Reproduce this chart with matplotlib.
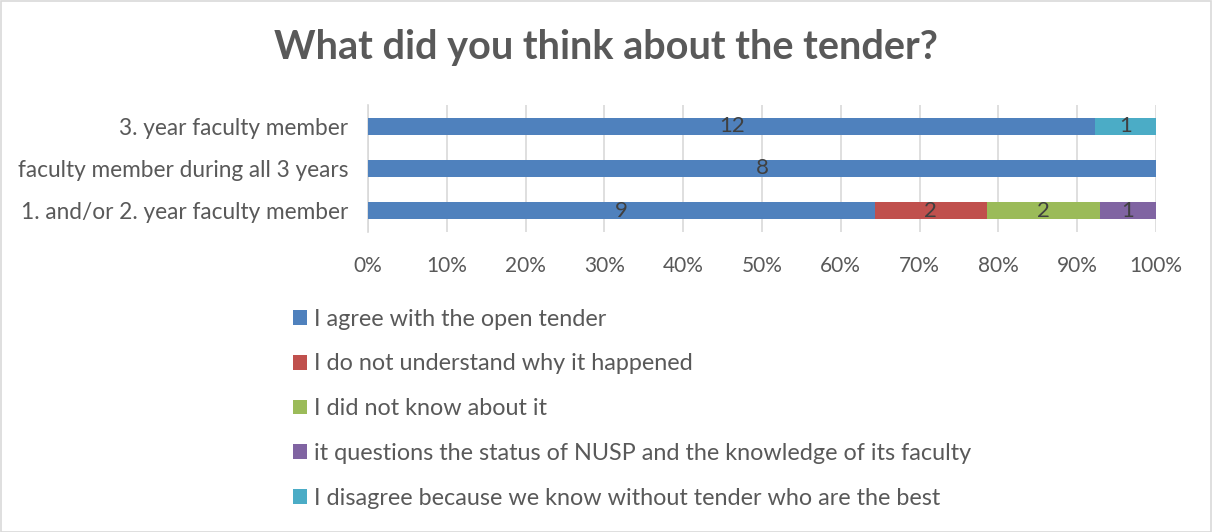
import numpy as np
import matplotlib
matplotlib.use("Agg")
import matplotlib.pyplot as plt
from matplotlib.patches import Rectangle

plt.rcParams['font.family'] = ['Lato', 'DejaVu Sans']

groups = ["1. and/or 2. year faculty member",
          "faculty member during all 3 years",
          "3. year faculty member"]
answers = ["I agree with the open tender",
           "I do not understand why it happened",
           "I did not know about it",
           "it questions the status of NUSP and the knowledge of its faculty",
           "I disagree because we know without tender who are the best"]
agree = [9, 8, 12]
not_understand = [2, 0, 0]
not_know = [2, 0, 0]
questions_status = [1, 0, 0]
disagree = [0, 0, 1]
colors = ["#4F81BD", "#C0504D", "#9BBB59", "#8064A2", "#4BACC6"]

counts = np.array([agree, not_understand, not_know, questions_status, disagree], dtype=float)
totals = counts.sum(axis=0)
shares = counts / totals

W, H = 1212, 532
fig = plt.figure(figsize=(W / 100, H / 100), dpi=100)
fig.patches.append(Rectangle((0.5 / W, 0.5 / H), 1 - 1.5 / W, 1 - 1.5 / H,
                             transform=fig.transFigure, fill=False,
                             edgecolor="#D9D9D9", linewidth=1.2))

ax = fig.add_axes([368 / W, 1 - 232 / H, (1156 - 368) / W, (232 - 105) / H])
y = np.arange(len(groups))
left = np.zeros(len(groups))
handles = []
for i, name in enumerate(answers):
    bars = ax.barh(y, shares[i], left=left, height=0.4, color=colors[i],
                   label=name, zorder=3)
    handles.append(bars)
    for j in range(len(groups)):
        if counts[i, j] > 0:
            ax.text(left[j] + shares[i, j] / 2, y[j], f"{int(counts[i, j])}",
                    ha="center", va="center", fontsize=16, color="#404040",
                    zorder=4)
    left += shares[i]

ax.set_xlim(0, 1)
ax.set_ylim(-0.5, 2.5)
ax.set_xticks(np.linspace(0, 1, 11))
ax.set_xticklabels([f"{int(round(v * 100))}%" for v in np.linspace(0, 1, 11)])
ax.set_yticks(y)
ax.set_yticklabels(groups)
ax.tick_params(axis="both", length=0, labelcolor="#595959")
ax.tick_params(axis="x", labelsize=15, pad=17)
ax.tick_params(axis="y", labelsize=16.3, pad=14)
ax.grid(axis="x", color="#D9D9D9", linewidth=1.2, zorder=0)
for side in ["top", "right", "bottom"]:
    ax.spines[side].set_visible(False)
ax.spines["left"].set_color("#D9D9D9")
ax.spines["left"].set_linewidth(1.2)

fig.text(0.5, 1 - 48 / H, "What did you think about the tender?", ha="center",
         va="center", fontsize=28.5, fontweight="bold", color="#595959")

leg = fig.legend(handles=handles, loc="upper left",
                 bbox_to_anchor=(281 / W, 1 - 297 / H), frameon=False,
                 fontsize=16.8, labelspacing=1.02, handlelength=0.6,
                 handleheight=0.6, handletextpad=0.3, borderpad=0)
for t in leg.get_texts():
    t.set_color("#595959")

fig.savefig("out.png", dpi=100)
